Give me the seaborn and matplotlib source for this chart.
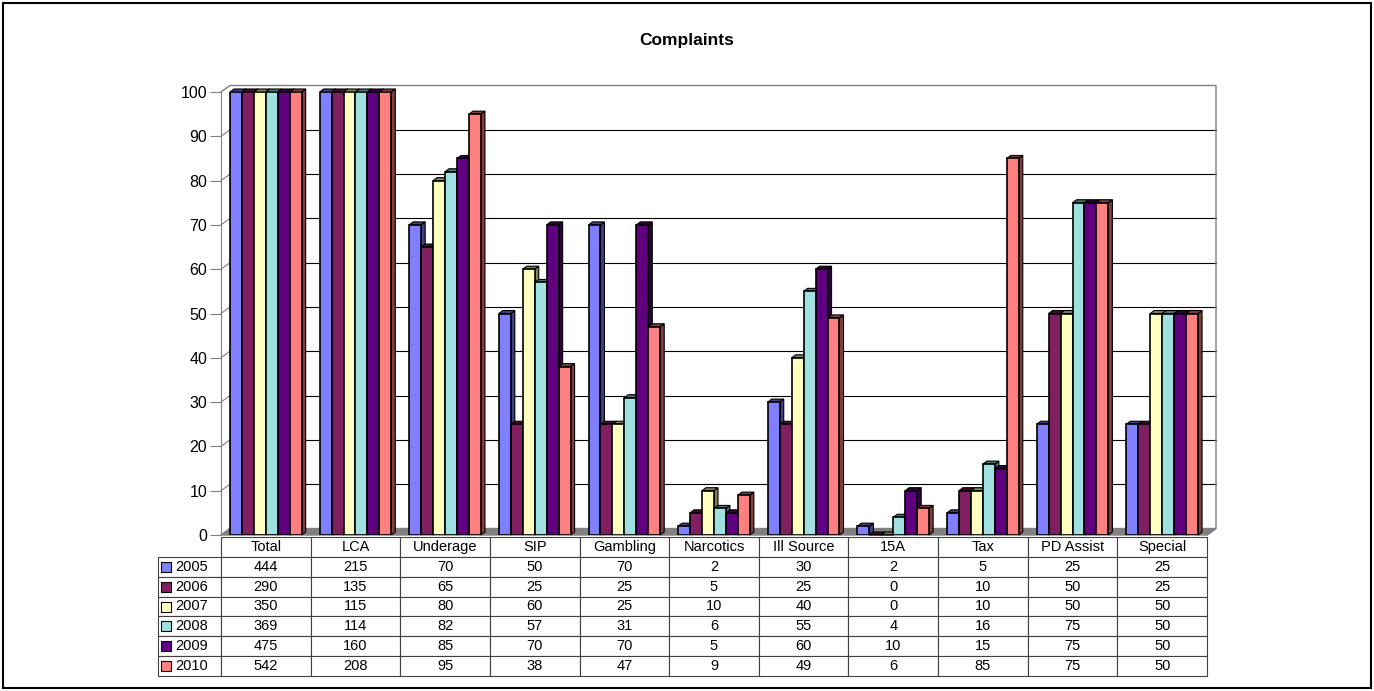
import numpy as np
import pandas as pd
import seaborn as sns
import matplotlib.pyplot as plt
from matplotlib.patches import Polygon, Rectangle

plt.rcParams['font.family'] = ['Liberation Sans', 'DejaVu Sans']

categories = ['Total', 'LCA', 'Underage', 'SIP', 'Gambling', 'Narcotics',
              'Ill Source', '15A', 'Tax', 'PD Assist', 'Special']
years = ['2005', '2006', '2007', '2008', '2009', '2010']
y2005 = [444, 215, 70, 50, 70, 2, 30, 2, 5, 25, 25]
y2006 = [290, 135, 65, 25, 25, 5, 25, 0, 10, 50, 25]
y2007 = [350, 115, 80, 60, 25, 10, 40, 0, 10, 50, 50]
y2008 = [369, 114, 82, 57, 31, 6, 55, 4, 16, 75, 50]
y2009 = [475, 160, 85, 70, 70, 5, 60, 10, 15, 75, 50]
y2010 = [542, 208, 95, 38, 47, 9, 49, 6, 85, 75, 50]
series = [y2005, y2006, y2007, y2008, y2009, y2010]
colors = ['#8080FF', '#802060', '#FFFFC0', '#A0E0E0', '#600080', '#FF8080']
ymax = 100

rows = []
for yr, vals in zip(years, series):
    for cat, v in zip(categories, vals):
        rows.append({'category': cat, 'year': yr, 'value': v})
df = pd.DataFrame(rows)
df['shown'] = df['value'].clip(upper=ymax)  # axis stops at 100

W, H = 1374, 691
fig = plt.figure(figsize=(W / 100, H / 100), dpi=100)
ax_l, ax_r, ax_t, ax_b = 221, 1207, 92, 535
ax = fig.add_axes([ax_l / W, 1 - ax_b / H, (ax_r - ax_l) / W, (ax_b - ax_t) / H])

sns.barplot(data=df, x='category', y='shown', hue='year', order=categories,
            hue_order=years, palette=colors, saturation=1, edgecolor='black',
            linewidth=1.2, legend=False, ax=ax, zorder=3)

ax.set_xlim(-0.5, len(categories) - 0.5)
ax.set_ylim(0, ymax)

# pseudo 3D offsets in data units
px_x = (ax_r - ax_l) / len(categories)
px_y = (ax_b - ax_t) / ymax
wall_dx, wall_dy = 9 / px_x, 6.5 / px_y
bar_dx, bar_dy = 4 / px_x, 3 / px_y
x0, x1 = ax.get_xlim()

# floor
ax.add_patch(Polygon([(x0, 0), (x1, 0), (x1 + wall_dx, wall_dy), (x0 + wall_dx, wall_dy)],
                     closed=True, facecolor='#808080', edgecolor='#808080',
                     clip_on=False, zorder=1))
# back wall gridlines
for v in range(10, ymax, 10):
    ax.plot([x0 + wall_dx, x1 + wall_dx], [v + wall_dy] * 2, color='black',
            lw=0.8, clip_on=False, zorder=1)
    ax.plot([x0, x0 + wall_dx], [v, v + wall_dy], color='#808080', lw=0.8,
            clip_on=False, zorder=1)
ax.plot([x0, x0 + wall_dx, x1 + wall_dx, x1 + wall_dx, x1],
        [ymax, ymax + wall_dy, ymax + wall_dy, wall_dy, 0],
        color='#808080', lw=1, clip_on=False, zorder=1)
ax.plot([x0, x0 + wall_dx], [0, wall_dy], color='#808080', lw=0.8, clip_on=False, zorder=1)

# bar side and top faces
for p in ax.patches:
    if not isinstance(p, Rectangle):
        continue
    bx, bw, bh = p.get_x(), p.get_width(), p.get_height()
    fc = np.array(p.get_facecolor()[:3])
    dark = tuple(fc * 0.5)
    side = Polygon([(bx + bw, 0), (bx + bw + bar_dx, bar_dy),
                    (bx + bw + bar_dx, bh + bar_dy), (bx + bw, bh)],
                   closed=True, facecolor=dark, edgecolor='black', lw=0.8,
                   clip_on=False, zorder=2.9)
    top = Polygon([(bx, bh), (bx + bar_dx, bh + bar_dy),
                   (bx + bw + bar_dx, bh + bar_dy), (bx + bw, bh)],
                  closed=True, facecolor=dark, edgecolor='black', lw=0.8,
                  clip_on=False, zorder=2.9)
    ax.add_patch(side)
    ax.add_patch(top)

for s in ['top', 'right', 'bottom']:
    ax.spines[s].set_visible(False)
ax.spines['left'].set_color('#808080')
ax.set_yticks(range(0, ymax + 1, 10))
ax.tick_params(axis='y', length=8, color='#808080', labelsize=11.5, pad=2)
ax.tick_params(axis='x', length=0, labelbottom=False)
ax.set_xlabel('')
ax.set_ylabel('')

# data table under the chart
cell_text = [[''] + categories]
for yr, vals in zip(years, series):
    cell_text.append([yr] + [str(v) for v in vals])
tb_top, tb_bot, tb_left = 537, 676, 158
label_w = (ax_l - tb_left) / (ax_r - ax_l)
tbl = ax.table(cellText=cell_text, cellLoc='center',
               colWidths=[label_w] + [1 / len(categories)] * len(categories),
               bbox=[-label_w, -(tb_bot - ax_b) / (ax_b - ax_t),
                     1 + label_w, (tb_bot - tb_top) / (ax_b - ax_t)])
tbl.auto_set_font_size(False)
tbl.set_fontsize(10.5)
for (r, c), cell in tbl.get_celld().items():
    cell.set_edgecolor('#404040')
    cell.set_linewidth(0.8)
    if r == 0 and c == 0:
        cell.visible_edges = 'open'
    elif c == 0:
        cell._loc = 'left'
        cell.PAD = 0.27
        cell.get_text().set_horizontalalignment('left')

# legend keys in the table
row_h = (tb_bot - tb_top) / (len(years) + 1)
for i, col in enumerate(colors):
    yc = tb_top + row_h * (i + 1.5)
    ax.scatter([(166 - ax_l) / (ax_r - ax_l)], [-(yc - ax_b) / (ax_b - ax_t)],
               marker='s', s=45, color=col, edgecolor='black', linewidth=0.8,
               transform=ax.transAxes, clip_on=False, zorder=5)

ax.set_xlim(x0, x1)
ax.set_ylim(0, ymax)

fig.text(0.5, 1 - 40 / H, 'Complaints', ha='center', va='center',
         fontsize=12.5, fontweight='bold')
fig.patches.append(Rectangle((3 / W, 3 / H), 1 - 6 / W, 1 - 6 / H, fill=False,
                             edgecolor='black', lw=1.5, transform=fig.transFigure))

fig.savefig('out.png', dpi=100)
